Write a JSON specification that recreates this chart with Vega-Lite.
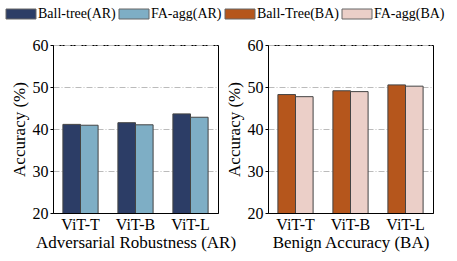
{
  "$schema": "https://vega.github.io/schema/vega-lite/v6.json",
  "padding": {"left": 4, "top": 7, "right": 4, "bottom": 4},
  "background": "white",
  "datasets": {
    "ar": [
      {"model": "ViT-T", "method": "Ball-tree(AR)", "acc": 41.1},
      {"model": "ViT-T", "method": "FA-agg(AR)", "acc": 40.9},
      {"model": "ViT-B", "method": "Ball-tree(AR)", "acc": 41.5},
      {"model": "ViT-B", "method": "FA-agg(AR)", "acc": 41.0},
      {"model": "ViT-L", "method": "Ball-tree(AR)", "acc": 43.6},
      {"model": "ViT-L", "method": "FA-agg(AR)", "acc": 42.8}
    ],
    "ba": [
      {"model": "ViT-T", "method": "Ball-Tree(BA)", "acc": 48.2},
      {"model": "ViT-T", "method": "FA-agg(BA)", "acc": 47.7},
      {"model": "ViT-B", "method": "Ball-Tree(BA)", "acc": 49.1},
      {"model": "ViT-B", "method": "FA-agg(BA)", "acc": 48.9},
      {"model": "ViT-L", "method": "Ball-Tree(BA)", "acc": 50.5},
      {"model": "ViT-L", "method": "FA-agg(BA)", "acc": 50.2}
    ]
  },
  "bounds": "flush",
  "spacing": 50,
  "hconcat": [
    {
      "width": 165,
      "height": 168,
      "data": {"name": "ar"},
      "mark": {"type": "bar", "stroke": "#444444", "strokeWidth": 1, "clip": true},
      "encoding": {
        "x": {"field": "model", "type": "nominal", "sort": ["ViT-T", "ViT-B", "ViT-L"], "scale": {"paddingInner": 0.36, "paddingOuter": 0.18}, "axis": {"title": "Adversarial Robustness (AR)", "labelAngle": 0}},
        "xOffset": {"field": "method", "type": "nominal", "sort": ["Ball-tree(AR)", "FA-agg(AR)"], "scale": {"paddingInner": 0, "paddingOuter": 0}},
        "y": {"field": "acc", "type": "quantitative", "scale": {"domain": [20, 60], "nice": false, "zero": false}, "axis": {"title": "Accuracy (%)", "values": [20, 30, 40, 50, 60]}},
        "color": {"field": "method", "type": "nominal", "scale": {"domain": ["Ball-tree(AR)", "FA-agg(AR)", "Ball-Tree(BA)", "FA-agg(BA)"], "range": ["#2c3d66", "#7eaec5", "#b5561c", "#ebcfc8"]}, "legend": {"title": null, "orient": "none", "legendX": -49, "legendY": -38, "direction": "horizontal"}}
      }
    },
    {
      "width": 165,
      "height": 168,
      "data": {"name": "ba"},
      "mark": {"type": "bar", "stroke": "#444444", "strokeWidth": 1, "clip": true},
      "encoding": {
        "x": {"field": "model", "type": "nominal", "sort": ["ViT-T", "ViT-B", "ViT-L"], "scale": {"paddingInner": 0.36, "paddingOuter": 0.18}, "axis": {"title": "Benign Accuracy (BA)", "labelAngle": 0}},
        "xOffset": {"field": "method", "type": "nominal", "sort": ["Ball-Tree(BA)", "FA-agg(BA)"], "scale": {"paddingInner": 0, "paddingOuter": 0}},
        "y": {"field": "acc", "type": "quantitative", "scale": {"domain": [20, 60], "nice": false, "zero": false}, "axis": {"title": "Accuracy (%)", "values": [20, 30, 40, 50, 60]}},
        "color": {"field": "method", "type": "nominal", "scale": {"domain": ["Ball-tree(AR)", "FA-agg(AR)", "Ball-Tree(BA)", "FA-agg(BA)"], "range": ["#2c3d66", "#7eaec5", "#b5561c", "#ebcfc8"]}, "legend": {"title": null, "orient": "none", "legendX": -49, "legendY": -38, "direction": "horizontal"}}
      }
    }
  ],
  "resolve": {"scale": {"color": "shared", "xOffset": "independent", "x": "independent"}},
  "config": {
    "font": "Liberation Serif",
    "view": {"stroke": "black", "strokeWidth": 1},
    "axis": {
      "labelFont": "Liberation Serif",
      "titleFont": "Liberation Serif",
      "labelFontSize": 16,
      "titleFontSize": 17,
      "labelColor": "black",
      "titleColor": "black",
      "titleFontWeight": "normal",
      "domainColor": "black",
      "tickColor": "black",
      "tickSize": 3,
      "labelPadding": 2
    },
    "axisY": {
      "grid": true,
      "gridColor": "#bbbbbb",
      "gridDash": [6, 2, 1, 2],
      "gridWidth": 1,
      "titlePadding": 4
    },
    "axisX": {"ticks": false, "grid": false, "titlePadding": 2, "labelPadding": 3},
    "legend": {
      "labelFont": "Liberation Serif",
      "labelFontSize": 14,
      "labelColor": "black",
      "labelLimit": 200,
      "symbolType": "M-1,-1H5V1H-1Z",
      "symbolSize": 100,
      "symbolStrokeColor": "#666666",
      "symbolStrokeWidth": 1,
      "symbolOpacity": 1,
      "labelOffset": 20,
      "columnPadding": 1
    }
  }
}
